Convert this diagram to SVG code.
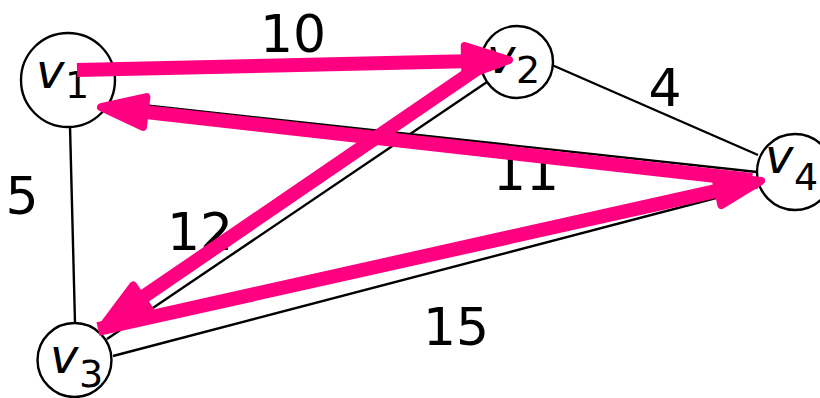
<svg xmlns="http://www.w3.org/2000/svg" width="820" height="398" viewBox="0 0 820 398">
<style>
.edge{stroke:#000;stroke-width:2.4;fill:none}
.node{fill:#fff;stroke:#000;stroke-width:2.4}
.lbl{font-family:"DejaVu Sans",sans-serif;font-size:52px;fill:#000}
.v{font-family:"DejaVu Sans",sans-serif;font-style:italic;font-size:48px;fill:#000}
.sub{font-style:normal;font-size:38px}
.shaft{stroke:#ff0080;stroke-width:14;fill:none;stroke-linecap:butt}
.head{fill:#ff0080;stroke:#ff0080;stroke-width:8;stroke-linejoin:round}
</style>
<rect width="820" height="398" fill="#fff"/>
<g id="edges">
<line class="edge" x1="70" y1="126" x2="75" y2="323"/>
<line class="edge" x1="115" y1="70" x2="481" y2="61"/>
<line class="edge" x1="552" y1="65" x2="758" y2="155"/>
<line class="edge" x1="487" y1="82" x2="107" y2="339"/>
<line class="edge" x1="115" y1="102" x2="757" y2="172"/>
<line class="edge" x1="113" y1="356" x2="758" y2="187"/>
</g>
<g id="v1"><circle class="node" cx="68" cy="80" r="47"/><text class="v" x="36" y="88">v<tspan class="sub" x="65" y="98">1</tspan></text></g>
<g id="v2"><circle class="node" cx="517" cy="62" r="36"/><text class="v" x="487" y="73">v<tspan class="sub" x="516" y="83">2</tspan></text></g>
<g id="v3"><circle class="node" cx="74.5" cy="360" r="37"/><text class="v" x="50" y="373">v<tspan class="sub" x="79" y="387">3</tspan></text></g>
<g id="v4"><circle class="node" cx="795" cy="172" r="38"/><text class="v" x="765" y="173">v<tspan class="sub" x="794" y="190">4</tspan></text></g>
<g id="labels">
<text class="lbl" x="293" y="52" text-anchor="middle">10</text>
<text class="lbl" x="665" y="106" text-anchor="middle">4</text>
<text class="lbl" x="22" y="214" text-anchor="middle">5</text>
<text class="lbl" x="200" y="250" text-anchor="middle">12</text>
<text class="lbl" x="526" y="190" text-anchor="middle">11</text>
<text class="lbl" x="456" y="345" text-anchor="middle">15</text>
</g>
<g id="path-arrows">
<line class="shaft" x1="77" y1="70" x2="475" y2="60.9"/>
<polygon class="head" points="509,60.1 465.4,76.1 464.7,46.1"/>
<line class="shaft" x1="752" y1="180" x2="134.8" y2="110.9"/>
<polygon class="head" points="101,107.1 146.4,97.1 143,126.9"/>
<line class="shaft" x1="497" y1="55" x2="133.4" y2="303.6"/>
<polygon class="head" points="105.3,322.7 150.1,310.3 133.2,285.5"/>
<line class="shaft" x1="98" y1="329" x2="727.9" y2="188.3"/>
<polygon class="head" points="761.1,180.9 721.4,205.1 714.9,175.8"/>
</g>
</svg>
